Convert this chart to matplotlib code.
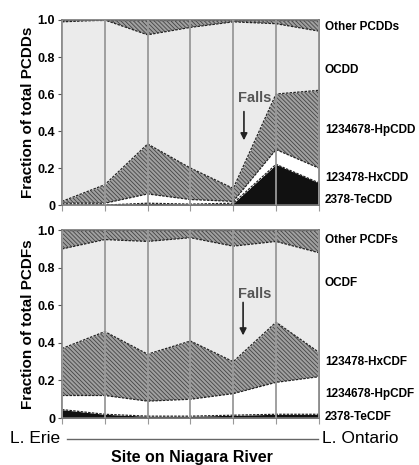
import matplotlib.pyplot as plt
import numpy as np
from matplotlib.lines import Line2D

plt.rcParams['font.family'] = ['Liberation Sans', 'DejaVu Sans']

sites = np.arange(7)

# PCDD fractions at each site (upstream -> downstream)
dd_te = [0.0, 0.0, 0.01, 0.005, 0.01, 0.22, 0.12]
dd_hx = [0.01, 0.01, 0.05, 0.025, 0.01, 0.08, 0.08]
dd_hp = [0.01, 0.10, 0.27, 0.17, 0.07, 0.30, 0.42]
dd_ocdd = [0.97, 0.89, 0.59, 0.76, 0.90, 0.38, 0.32]
dd_other = [0.01, 0.0, 0.08, 0.04, 0.01, 0.02, 0.06]
dd_labels = ["2378-TeCDD", "123478-HxCDD", "1234678-HpCDD", "OCDD", "Other PCDDs"]
dd_label_y = [0.03, 0.146, 0.405, 0.73, 0.96]

# PCDF fractions
df_te = [0.045, 0.02, 0.01, 0.01, 0.015, 0.02, 0.02]
df_hp = [0.075, 0.10, 0.08, 0.09, 0.115, 0.17, 0.20]
df_hx = [0.25, 0.34, 0.25, 0.31, 0.17, 0.32, 0.13]
df_ocdf = [0.53, 0.49, 0.60, 0.55, 0.615, 0.43, 0.53]
df_other = [0.10, 0.05, 0.06, 0.04, 0.085, 0.06, 0.12]
df_labels = ["2378-TeCDF", "1234678-HpCDF", "123478-HxCDF", "OCDF", "Other PCDFs"]
df_label_y = [0.005, 0.128, 0.30, 0.72, 0.95]

yticks = [0, 0.2, 0.4, 0.6, 0.8, 1.0]
ytick_labels = ["0", "0.2", "0.4", "0.6", "0.8", "1.0"]

# fill styles for layers bottom -> top
styles = [
    dict(facecolor="#111111", hatch=None),
    dict(facecolor="white", hatch=None),
    dict(facecolor="#a0a0a0", hatch="\\\\\\\\\\\\\\\\"),
    dict(facecolor="#ebebeb", hatch=None),
    dict(facecolor="#a0a0a0", hatch="\\\\\\\\\\\\\\\\"),
]

plt.rcParams['hatch.color'] = '#444444'
plt.rcParams['hatch.linewidth'] = 0.6

fig = plt.figure(figsize=(4.19, 4.65), dpi=100)
ax1 = fig.add_axes([0.148, 0.559, 0.613, 0.398])
ax2 = fig.add_axes([0.148, 0.101, 0.613, 0.404])


def draw(ax, layers, labels, label_y, ylab, falls_text, falls_arrow):
    cum = np.zeros(len(sites))
    for vals, st in zip(layers, styles):
        top = cum + np.array(vals)
        ax.fill_between(sites, cum, top, facecolor=st["facecolor"],
                        hatch=st["hatch"], edgecolor="#444444", linewidth=0)
        ax.plot(sites, top, color="#222222", lw=0.9, ls=(0, (2, 1)))
        cum = top
    for s in sites:
        ax.axvline(s, color="#999999", lw=1.3, zorder=3)
    ax.set_xlim(0, 6)
    ax.set_ylim(0, 1.0)
    ax.set_xticks(sites)
    ax.set_xticklabels([])
    ax.tick_params(axis="x", length=4, color="#999999")
    ax.set_yticks(yticks)
    ax.set_yticklabels(ytick_labels, fontsize=9, fontweight="bold")
    ax.tick_params(axis="y", length=3, pad=2, color="#555555")
    for sp in ax.spines.values():
        sp.set_color("#777777")
        sp.set_linewidth(1.2)
    ax.set_ylabel(ylab, fontsize=11, fontweight="bold", labelpad=2)
    for lab, y in zip(labels, label_y):
        ax.text(1.023, y, lab, transform=ax.transAxes, fontsize=8.5,
                fontweight="bold", va="center", ha="left")
    ax.text(falls_text[0], falls_text[1], "Falls", fontsize=10.5,
            fontweight="bold", color="#555555", ha="center", va="center")
    ax.annotate("", xy=(falls_arrow[0], falls_arrow[2]),
                xytext=(falls_arrow[0], falls_arrow[1]),
                arrowprops=dict(arrowstyle="-|>", color="#222222", lw=1.2,
                                mutation_scale=10))


draw(ax1, [dd_te, dd_hx, dd_hp, dd_ocdd, dd_other], dd_labels, dd_label_y,
     "Fraction of total PCDDs", (4.5, 0.58), (4.25, 0.52, 0.335))
draw(ax2, [df_te, df_hp, df_hx, df_ocdf, df_other], df_labels, df_label_y,
     "Fraction of total PCDFs", (4.5, 0.66), (4.23, 0.63, 0.425))

fig.text(10 / 419, 1 - 438 / 465, "L. Erie", fontsize=12.5, va="center", ha="left")
fig.text(322 / 419, 1 - 438 / 465, "L. Ontario", fontsize=12.5, va="center", ha="left")
fig.add_artist(Line2D([67 / 419, 318 / 419], [1 - 439 / 465, 1 - 439 / 465],
                      color="#666666", lw=1))
fig.text(192 / 419, 1 - 457 / 465, "Site on Niagara River", fontsize=11.5,
         fontweight="bold", va="center", ha="center")

fig.savefig("out.png", dpi=100)
